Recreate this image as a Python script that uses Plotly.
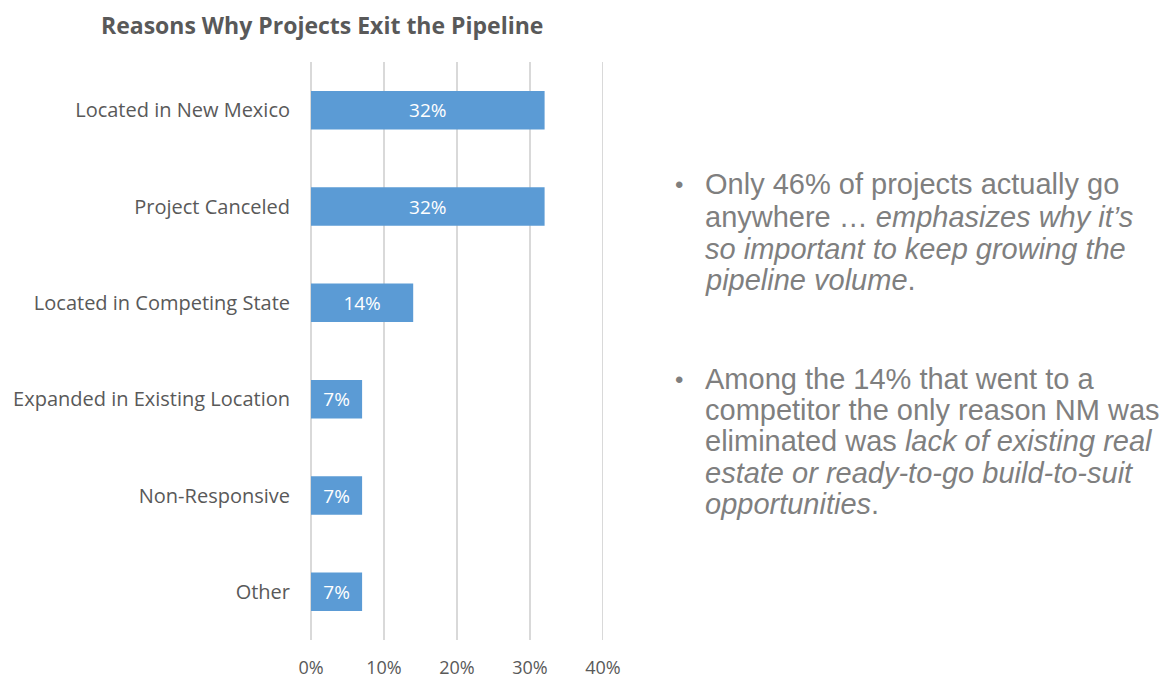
import plotly.graph_objects as go

categories = ["Located in New Mexico", "Project Canceled", "Located in Competing State",
              "Expanded in Existing Location", "Non-Responsive", "Other"]
values = [0.32, 0.32, 0.14, 0.07, 0.07, 0.07]
bar_labels = ["32%", "32%", "14%", "7%", "7%", "7%"]
x_ticks = [0, 0.1, 0.2, 0.3, 0.4]
x_tick_labels = ["0%", "10%", "20%", "30%", "40%"]

title_text = "Reasons Why Projects Exit the Pipeline"
bullet1_lines = [
    "Only 46% of projects actually go",
    "anywhere … <i>emphasizes why it’s</i>",
    "<i>so important to keep growing the</i>",
    "<i>pipeline volume</i>.",
]
bullet2_lines = [
    "Among the 14% that went to a",
    "competitor the only reason NM was",
    "eliminated was <i>lack of existing real</i>",
    "<i>estate or ready-to-go build-to-suit</i>",
    "<i>opportunities</i>.",
]

W, H = 1170, 678
L, R, T, B = 311, 567, 62, 38
GRID = "#d9d9d9"

fig = go.Figure(go.Bar(
    y=categories, x=values, orientation="h",
    marker=dict(color="#5B9BD5", line=dict(width=0)),
    text=bar_labels, textposition="inside", insidetextanchor="middle",
    textfont=dict(color="white", size=19, family="Open Sans"),
    hoverinfo="skip",
))

fig.update_layout(
    width=W, height=H,
    margin=dict(l=L, r=R, t=T, b=B, pad=0, autoexpand=False),
    paper_bgcolor="white", plot_bgcolor="white",
    bargap=0.6, showlegend=False,
    font=dict(family="Open Sans", color="#595959"),
)
fig.update_xaxes(
    range=[0, 0.4], tickvals=x_ticks, ticktext=x_tick_labels,
    showgrid=True, gridcolor=GRID, gridwidth=2,
    zeroline=True, zerolinecolor=GRID, zerolinewidth=2,
    showline=False, automargin=False,
    ticks="outside", ticklen=0, ticklabelstandoff=11,
    tickfont=dict(size=18, color="#595959", family="Open Sans"),
)
fig.update_yaxes(
    categoryorder="array", categoryarray=categories, autorange="reversed",
    showgrid=False, zeroline=False, showline=False, automargin=False,
    ticks="", ticklabelstandoff=20,
    tickfont=dict(size=20, color="#595959", family="Open Sans"),
)
# edge gridline at the top of the range (plotly omits edge gridlines)
fig.add_shape(type="line", xref="x", yref="paper", x0=x_ticks[-1], x1=x_ticks[-1],
              y0=0, y1=1, line=dict(color=GRID, width=2), layer="below")

pw = W - L - R
ph = H - T - B

def px_x(x):
    return (x - L) / pw

def px_y(y):
    return (H - B - y) / ph

annotations = [dict(
    text="<b>" + title_text + "</b>", xref="paper", yref="paper",
    x=px_x(322), y=px_y(25),
    xanchor="center", yanchor="middle", showarrow=False,
    font=dict(size=23, color="#595959", family="Open Sans"),
)]

line_color = "#7f7f7f"
for ys, lines in [([184, 217, 249, 280], bullet1_lines),
                  ([379, 410, 441, 473, 504], bullet2_lines)]:
    annotations.append(dict(
        text="•", xref="paper", yref="paper", x=px_x(679), y=px_y(ys[0]),
        xanchor="center", yanchor="middle", showarrow=False,
        font=dict(size=24, color=line_color, family="Liberation Sans"),
    ))
    for yy, ln in zip(ys, lines):
        annotations.append(dict(
            text=ln, xref="paper", yref="paper", x=px_x(703), y=px_y(yy),
            xanchor="left", yanchor="middle", showarrow=False,
            font=dict(size=29, color=line_color, family="Liberation Sans"),
        ))

fig.update_layout(annotations=annotations)
fig.write_html("out.html")
